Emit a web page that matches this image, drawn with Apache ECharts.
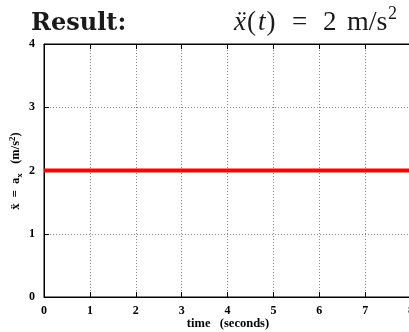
<!DOCTYPE html>
<html><head><meta charset="utf-8">
<script src="https://cdn.jsdelivr.net/npm/echarts@6/dist/echarts.min.js"></script>
<style>html,body{margin:0;padding:0;background:#fff}#c{width:409px;height:332px}</style>
</head><body><div id="c"></div>
<script>
var times = [0, 1, 2, 3, 4, 5, 6, 7, 8];
var accel = [2, 2, 2, 2, 2, 2, 2, 2, 2];
var xTicks = ['0','1','2','3','4','5','6','7','8'];
var yTicks = ['0','1','2','3','4'];

var chart = echarts.init(document.getElementById('c'));
var serif = 'Liberation Serif';
var ink = '#1a1a1a';
chart.setOption({
  animation: false,
  grid: {left: 44, top: 44, width: 367, height: 253, show: true, borderColor: '#000', borderWidth: 1,
    outerBoundsMode: 'none', containLabel: false},
  xAxis: [{
    type: 'value', min: 0, max: 8, interval: 1,
    axisLine: {show: true, lineStyle: {color: '#000', width: 1}},
    axisTick: {show: true, inside: true, length: 5, lineStyle: {color: '#000'}},
    axisLabel: {color: '#000', fontFamily: serif, fontWeight: 'bold', fontSize: 12, margin: 8,
      formatter: function (v) { return xTicks[v]; }},
    splitLine: {show: true, lineStyle: {color: '#888', type: [1, 2], width: 1}}
  }, {
    type: 'value', min: 0, max: 8, interval: 1, position: 'top',
    axisLine: {show: true, lineStyle: {color: '#000'}},
    axisTick: {show: true, inside: true, length: 5, lineStyle: {color: '#000'}},
    axisLabel: {show: false}, splitLine: {show: false}
  }],
  yAxis: {
    type: 'value', min: 0, max: 4, interval: 1,
    axisLine: {show: true, lineStyle: {color: '#000', width: 1}},
    axisTick: {show: true, inside: true, length: 5, lineStyle: {color: '#000'}},
    axisLabel: {color: '#000', fontFamily: serif, fontWeight: 'bold', fontSize: 12, margin: 9,
      formatter: function (v) { return yTicks[v]; }},
    splitLine: {show: true, lineStyle: {color: '#888', type: [1, 2], width: 1}}
  },
  series: [{
    type: 'line', data: times.map(function (t, i) { return [t, accel[i]]; }),
    showSymbol: false, lineStyle: {color: '#ff0000', width: 4}, clip: false
  }],
  graphic: [
    {type: 'text', x: 31, y: 24, style: {text: 'Result:', fontFamily: 'DejaVu Serif', fontWeight: 'bold', fontSize: 24, fill: ink, verticalAlign: 'middle'}},
    {type: 'text', x: 233, y: 23, style: {text: '{i|ẍ}{r|(}{i|t}{r|)}', verticalAlign: 'middle',
      rich: {
        i: {fontFamily: serif, fontStyle: 'italic', fontSize: 27, fill: ink, padding: [0, 1, 0, 1]},
        r: {fontFamily: serif, fontSize: 27, fill: ink, padding: [0, 1, 0, 0]}
      }}},
    {type: 'text', x: 292, y: 23, style: {text: '=', fontFamily: serif, fontSize: 27, fill: ink, verticalAlign: 'middle'}},
    {type: 'text', x: 323, y: 23, style: {text: '2', fontFamily: serif, fontSize: 27, fill: ink, verticalAlign: 'middle'}},
    {type: 'text', x: 347, y: 23, style: {text: 'm/s', fontFamily: serif, fontSize: 28, fill: ink, verticalAlign: 'middle'}},
    {type: 'text', x: 388, y: 14, style: {text: '2', fontFamily: serif, fontSize: 18, fill: ink, verticalAlign: 'middle'}},
    {type: 'text', x: 228, y: 324, style: {text: 'time   (seconds)', fontFamily: serif, fontWeight: 'bold', fontSize: 12.5, fill: '#000', align: 'center', verticalAlign: 'middle'}},
    {type: 'text', x: 16, y: 171, rotation: Math.PI / 2, style: {
      text: '{a|ẍ  =  a}{b|x}{a|   (m/s}{c|2}{a|)}', align: 'center', verticalAlign: 'middle',
      rich: {
        a: {fontFamily: serif, fontWeight: 'bold', fontSize: 12.5, fill: '#000', verticalAlign: 'middle', height: 16},
        b: {fontFamily: serif, fontWeight: 'bold', fontSize: 9, fill: '#000', verticalAlign: 'bottom', height: 16, padding: [7, 0, 0, 0]},
        c: {fontFamily: serif, fontWeight: 'bold', fontSize: 9, fill: '#000', verticalAlign: 'top', height: 16, padding: [0, 0, 7, 0]}
      }}}
  ]
});
</script></body></html>
